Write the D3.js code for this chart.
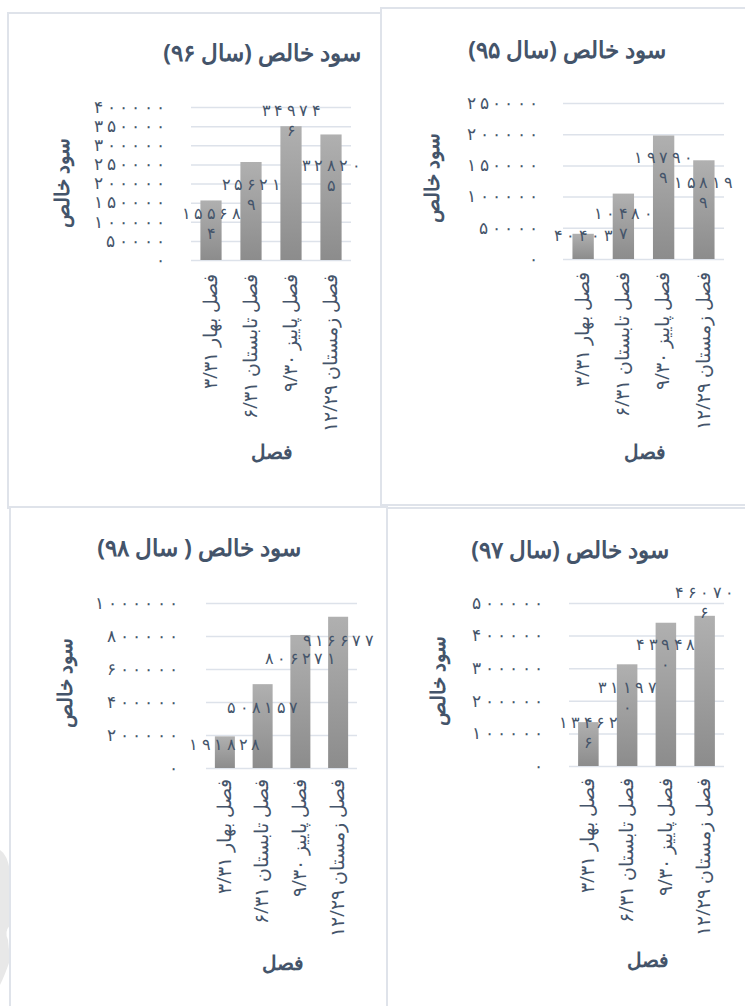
<!DOCTYPE html>
<html>
<head>
<meta charset="utf-8">
<script src="https://cdn.jsdelivr.net/npm/d3@7"></script>
<style>
  body { margin: 0; background: #fff; }
  text { font-family: 'Noto Sans', sans-serif; fill: #44546a; }
  .title { font-size: 23px; font-weight: bold; }
  .axis-title { font-size: 20px; font-weight: bold; }
  .grid line { stroke: #dde2ea; stroke-width: 1.5px; }
  .frame { fill: #fff; stroke: #dfe3ea; stroke-width: 2px; }
</style>
</head>
<body>
<svg id="chart" width="745" height="1006"></svg>
<script>
// categories (x axis)
var seasons = ['فصل بهار ۳/۳۱', 'فصل تابستان ۶/۳۱', 'فصل پاییز ۹/۳۰', 'فصل زمستان ۱۲/۲۹'];

// net profit per season, one array per year
var profit95 = [40403, 104807, 197909, 158199];
var profit96 = [155684, 256219, 349746, 328205];
var profit97 = [134626, 311970, 439480, 460706];
var profit98 = [191828, 508157, 806271, 916677];

var titles = ['سود خالص (سال ۹۵)', 'سود خالص (سال ۹۶)', 'سود خالص (سال ۹۷)', 'سود خالص ( سال ۹۸)'];
var yMax = [250000, 400000, 500000, 1000000];
var yStep = [50000, 50000, 100000, 200000];
var yTitle = 'سود خالص';
var xTitle = 'فصل';

// layout of the four panels (page coordinates)
var panels = [
  { data: profit96, k: 1, frame: [8, 13, 373, 495], l: 191, r: 351, t: 107, b: 260, tickX: 165,
    title: [262, 53], yT: [62, 183], xLab: 274, xT: [272, 452], dy: [13, 22, -16, 31], wrap: 5 },
  { data: profit95, k: 0, frame: [381, 8, 372, 497], l: 563, r: 724, t: 103, b: 259, tickX: 538,
    title: [567, 50], yT: [432, 178], xLab: 272, xT: [645, 452], dy: [2, 20, 22, 22], wrap: 5 },
  { data: profit98, k: 3, frame: [10, 507, 377, 510], l: 206, r: 357, t: 603, b: 768, tickX: 178,
    title: [199, 548], yT: [65, 683], xLab: 779, xT: [283, 963], dy: [8, 23, 23, 24], wrap: 0 },
  { data: profit97, k: 2, frame: [387, 508, 370, 510], l: 569, r: 724, t: 603, b: 766, tickX: 543,
    title: [570, 550], yT: [438, 681], xLab: 778, xT: [648, 960], dy: [0, 23, 22, -23], wrap: 5 }
];

var fa = n => String(n).replace(/\d/g, d => '۰۱۲۳۴۵۶۷۸۹'[d]);
var digitW = 11.8;  // spaced-out digits, like the Excel rendering

var svg = d3.select('#chart');

// bar gradient
var grad = svg.append('defs').append('linearGradient')
  .attr('id', 'barGrad').attr('x1', 0).attr('y1', 0).attr('x2', 0).attr('y2', 1);
grad.append('stop').attr('offset', '0%').attr('stop-color', '#b0b0b0');
grad.append('stop').attr('offset', '100%').attr('stop-color', '#8c8c8c');

// faint shape at the left edge
svg.append('path')
  .attr('d', 'M0,850 Q8,855 10,872 L10,925 Q4,932 8,940 L10,960 Q5,975 0,985 Z')
  .attr('fill', '#e8e8e8');

panels.forEach(p => {
  var g = svg.append('g');

  g.append('rect').attr('class', 'frame')
    .attr('x', p.frame[0]).attr('y', p.frame[1])
    .attr('width', p.frame[2]).attr('height', p.frame[3]);

  var x = d3.scaleBand().domain(seasons).range([p.l, p.r]).paddingInner(0.47).paddingOuter(0.235);
  var y = d3.scaleLinear().domain([0, yMax[p.k]]).range([p.b, p.t]);
  var ticks = d3.range(0, yMax[p.k] + 1, yStep[p.k]);

  // gridlines
  g.append('g').attr('class', 'grid')
    .attr('transform', `translate(${p.l},0)`)
    .call(d3.axisLeft(y).tickValues(ticks).tickSize(-(p.r - p.l)).tickFormat(''))
    .call(a => a.select('.domain').remove());

  // y tick labels
  g.append('g')
    .attr('transform', `translate(${p.tickX},0)`)
    .call(d3.axisLeft(y).tickValues(ticks).tickSize(0).tickPadding(0).tickFormat(fa))
    .call(a => a.select('.domain').remove())
    .selectAll('text')
    .attr('font-family', null).attr('fill', '#44546a')
    .style('font-size', '16.5px')
    .attr('textLength', d => fa(d).length * digitW)
    .attr('lengthAdjust', 'spacing');

  // bars
  g.selectAll('.bar').data(p.data).enter().append('rect')
    .attr('x', (d, i) => x(seasons[i]))
    .attr('width', x.bandwidth())
    .attr('y', d => y(d))
    .attr('height', d => p.b - y(d))
    .attr('fill', 'url(#barGrad)');

  // data labels
  p.data.forEach((d, i) => {
    var s = fa(d);
    var lines = p.wrap && s.length > p.wrap ? [s.slice(0, p.wrap), s.slice(p.wrap)] : [s];
    var cx = x(seasons[i]) + x.bandwidth() / 2;
    lines.forEach((ln, j) => {
      g.append('text')
        .attr('text-anchor', 'middle')
        .style('font-size', '16px')
        .attr('x', cx)
        .attr('y', y(d) + p.dy[i] + j * 20)
        .attr('dy', '0.35em')
        .attr('textLength', ln.length * digitW)
        .attr('lengthAdjust', 'spacing')
        .text(ln);
    });
  });

  // x axis labels (rotated)
  g.append('g')
    .attr('transform', `translate(0,${p.xLab})`)
    .call(d3.axisBottom(x).tickSize(0).tickPadding(0))
    .call(a => a.select('.domain').remove())
    .selectAll('text')
    .attr('font-family', null).attr('fill', '#44546a')
    .style('font-size', '19px')
    .attr('text-anchor', 'end')
    .attr('transform', 'rotate(-90)')
    .attr('x', 0).attr('y', 0).attr('dy', '0.3em');

  // titles
  g.append('text').attr('class', 'title')
    .attr('direction', 'rtl').attr('text-anchor', 'middle')
    .attr('x', p.title[0]).attr('y', p.title[1]).attr('dy', '0.35em')
    .text(titles[p.k]);

  g.append('text').attr('class', 'axis-title')
    .attr('text-anchor', 'middle')
    .attr('transform', `translate(${p.yT[0]},${p.yT[1]}) rotate(-90)`)
    .attr('dy', '0.35em')
    .text(yTitle);

  g.append('text').attr('class', 'axis-title')
    .attr('text-anchor', 'middle')
    .attr('x', p.xT[0]).attr('y', p.xT[1]).attr('dy', '0.35em')
    .text(xTitle);
});
</script>
</body>
</html>
